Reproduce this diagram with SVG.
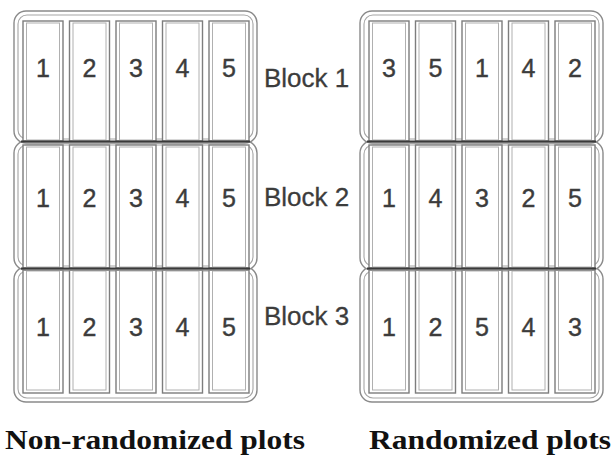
<svg xmlns="http://www.w3.org/2000/svg" width="614" height="456" viewBox="0 0 614 456">
  <style>
    .blk-o { fill: #fff; stroke: #8a8a8a; stroke-width: 1.4; }
    .blk-i { fill: none; stroke: #a5a5a5; stroke-width: 1.1; }
    .plot-o { fill: #fff; stroke: #7d7d7d; stroke-width: 1.4; }
    .plot-i { fill: none; stroke: #b0b0b0; stroke-width: 1; }
    .seam { stroke: #3a3a3a; stroke-width: 2.2; }
    .num { font-family: "Liberation Sans", Arial, sans-serif; font-size: 25px; fill: #3c3c3c; stroke: #3c3c3c; stroke-width: 0.4; text-anchor: middle; }
    .lbl { font-family: "Liberation Sans", Arial, sans-serif; font-size: 26px; fill: #3c3c3c; stroke: #3c3c3c; stroke-width: 0.3; }
    .cap { font-family: "Liberation Serif", "Times New Roman", serif; font-size: 27px; font-weight: bold; fill: #111; }
  </style>
  <defs>
    <!-- one plot column: double outline -->
    <g id="plot1"><rect class="plot-o" x="0" y="0" width="40" height="120"/><rect class="plot-i" x="3.5" y="2" width="33" height="117"/></g>
    <g id="plot2"><rect class="plot-o" x="0" y="0" width="40" height="123"/><rect class="plot-i" x="3.5" y="2" width="33" height="120"/></g>
    <g id="plot3"><rect class="plot-o" x="0" y="0" width="40" height="123"/><rect class="plot-i" x="3.5" y="1" width="33" height="119"/></g>
  </defs>

  <!-- Non-randomized layout -->
  <g id="left-block3">
    <rect class="blk-o" x="14" y="267" width="243" height="135" rx="12"/>
    <rect class="blk-i" x="18" y="271" width="235" height="127" rx="9"/>
    <use href="#plot3" x="23" y="270"/><use href="#plot3" x="69.5" y="270"/><use href="#plot3" x="116" y="270"/><use href="#plot3" x="162.5" y="270"/><use href="#plot3" x="209" y="270"/>
    <text class="num" x="43" y="336">1</text><text class="num" x="89.5" y="336">2</text><text class="num" x="136" y="336">3</text><text class="num" x="182.5" y="336">4</text><text class="num" x="229" y="336">5</text>
  </g>
  <g id="left-block2">
    <rect class="blk-o" x="14" y="141" width="243" height="129" rx="12"/>
    <rect class="blk-i" x="18" y="145" width="235" height="121" rx="9"/>
    <use href="#plot2" x="23" y="145"/><use href="#plot2" x="69.5" y="145"/><use href="#plot2" x="116" y="145"/><use href="#plot2" x="162.5" y="145"/><use href="#plot2" x="209" y="145"/>
    <text class="num" x="43" y="207">1</text><text class="num" x="89.5" y="207">2</text><text class="num" x="136" y="207">3</text><text class="num" x="182.5" y="207">4</text><text class="num" x="229" y="207">5</text>
  </g>
  <g id="left-block1">
    <rect class="blk-o" x="14" y="11" width="243" height="132" rx="12"/>
    <rect class="blk-i" x="18" y="15" width="235" height="124" rx="9"/>
    <use href="#plot1" x="23" y="21"/><use href="#plot1" x="69.5" y="21"/><use href="#plot1" x="116" y="21"/><use href="#plot1" x="162.5" y="21"/><use href="#plot1" x="209" y="21"/>
    <text class="num" x="43" y="77">1</text><text class="num" x="89.5" y="77">2</text><text class="num" x="136" y="77">3</text><text class="num" x="182.5" y="77">4</text><text class="num" x="229" y="77">5</text>
  </g>

  <!-- Randomized layout -->
  <g id="right-block3">
    <rect class="blk-o" x="360" y="267" width="243" height="135" rx="12"/>
    <rect class="blk-i" x="364" y="271" width="235" height="127" rx="9"/>
    <use href="#plot3" x="369" y="270"/><use href="#plot3" x="415.5" y="270"/><use href="#plot3" x="462" y="270"/><use href="#plot3" x="508.5" y="270"/><use href="#plot3" x="555" y="270"/>
    <text class="num" x="389" y="336">1</text><text class="num" x="435.5" y="336">2</text><text class="num" x="482" y="336">5</text><text class="num" x="528.5" y="336">4</text><text class="num" x="575" y="336">3</text>
  </g>
  <g id="right-block2">
    <rect class="blk-o" x="360" y="141" width="243" height="129" rx="12"/>
    <rect class="blk-i" x="364" y="145" width="235" height="121" rx="9"/>
    <use href="#plot2" x="369" y="145"/><use href="#plot2" x="415.5" y="145"/><use href="#plot2" x="462" y="145"/><use href="#plot2" x="508.5" y="145"/><use href="#plot2" x="555" y="145"/>
    <text class="num" x="389" y="207">1</text><text class="num" x="435.5" y="207">4</text><text class="num" x="482" y="207">3</text><text class="num" x="528.5" y="207">2</text><text class="num" x="575" y="207">5</text>
  </g>
  <g id="right-block1">
    <rect class="blk-o" x="360" y="11" width="243" height="132" rx="12"/>
    <rect class="blk-i" x="364" y="15" width="235" height="124" rx="9"/>
    <use href="#plot1" x="369" y="21"/><use href="#plot1" x="415.5" y="21"/><use href="#plot1" x="462" y="21"/><use href="#plot1" x="508.5" y="21"/><use href="#plot1" x="555" y="21"/>
    <text class="num" x="389" y="77">3</text><text class="num" x="435.5" y="77">5</text><text class="num" x="482" y="77">1</text><text class="num" x="528.5" y="77">4</text><text class="num" x="575" y="77">2</text>
  </g>

  <!-- dark seams between blocks -->
  <g id="seams">
    <line class="seam" x1="21" y1="141.5" x2="250" y2="141.5"/>
    <line class="seam" x1="21" y1="268.5" x2="250" y2="268.5"/>
    <line class="seam" x1="367" y1="141.5" x2="596" y2="141.5"/>
    <line class="seam" x1="367" y1="268.5" x2="596" y2="268.5"/>
  </g>

  <!-- block labels -->
  <text class="lbl" x="264" y="87">Block 1</text>
  <text class="lbl" x="264" y="206">Block 2</text>
  <text class="lbl" x="264" y="325">Block 3</text>

  <!-- captions -->
  <text class="cap" x="5" y="449" textLength="300" lengthAdjust="spacingAndGlyphs">Non-randomized plots</text>
  <text class="cap" x="369" y="449" textLength="242" lengthAdjust="spacingAndGlyphs">Randomized plots</text>
</svg>
